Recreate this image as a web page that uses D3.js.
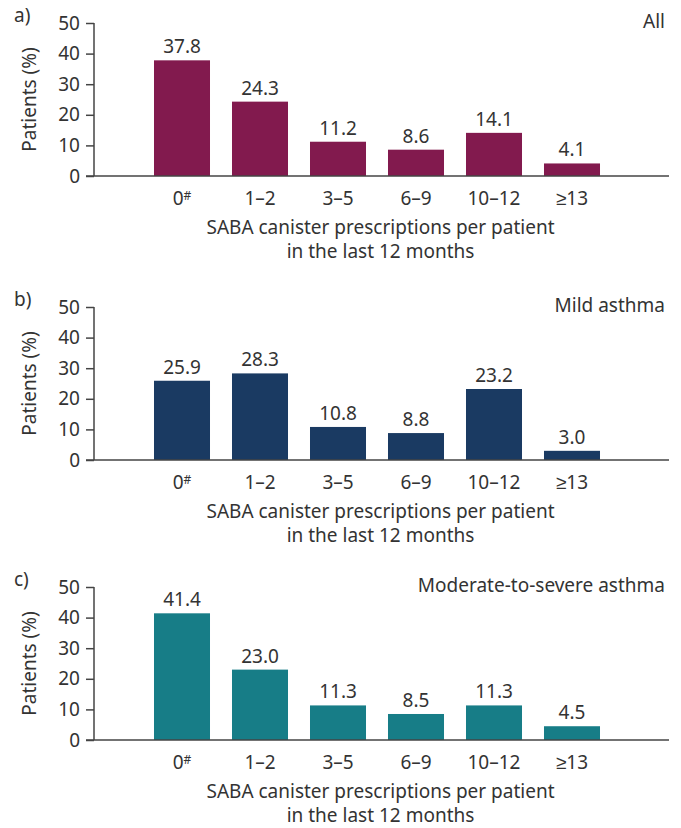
<!DOCTYPE html>
<html>
<head>
<meta charset="utf-8">
<script src="https://cdn.jsdelivr.net/npm/d3@7"></script>
<style>
  body { margin: 0; background: #fff; }
  text { font-family: "Noto Sans", sans-serif; fill: #333; }
</style>
</head>
<body>
<div id="chart"></div>
<script>

var categories = ["0", "1\u20132", "3\u20135", "6\u20139", "10\u201312", "\u226513"];
var allValues = [37.8, 24.3, 11.2, 8.6, 14.1, 4.1];
var mildValues = [25.9, 28.3, 10.8, 8.8, 23.2, 3.0];
var modSevValues = [41.4, 23.0, 11.3, 8.5, 11.3, 4.5];
var yTicks = [0, 10, 20, 30, 40, 50];

var panels = [
	{letter: "a)", title: "All", values: allValues, color: "#821a4e", top: 23},
	{letter: "b)", title: "Mild asthma", values: mildValues, color: "#1a3a62", top: 307},
	{letter: "c)", title: "Moderate-to-severe asthma", values: modSevValues, color: "#177d87", top: 587}
];

var width = 681, height = 828;
var plotH = 153;
var axisX = 94, axisEnd = 669;
var fs = "19px";

var svg = d3.select("#chart").append("svg")
	.attr("width", width)
	.attr("height", height);

var x = d3.scaleBand()
	.domain(categories)
	.range([143, 611])
	.paddingInner(0.282)
	.paddingOuter(0.141);

panels.forEach(function (p) {
	var g = svg.append("g")
		.attr("transform", "translate(0," + p.top + ")");

	var y = d3.scaleLinear()
		.domain([0, 50])
		.range([plotH, 0]);

	// bars
	g.selectAll("rect.bar")
		.data(p.values)
		.enter().append("rect")
		.attr("class", "bar")
		.attr("x", function (d, i) { return x(categories[i]); })
		.attr("y", function (d) { return y(d); })
		.attr("width", x.bandwidth())
		.attr("height", function (d) { return plotH - y(d); })
		.style("fill", p.color);

	// value labels
	g.selectAll("text.val")
		.data(p.values)
		.enter().append("text")
		.attr("class", "val")
		.attr("x", function (d, i) { return x(categories[i]) + x.bandwidth() / 2; })
		.attr("y", function (d) { return y(d) - 7; })
		.attr("text-anchor", "middle")
		.style("font-size", fs)
		.text(function (d) { return d.toFixed(1); });

	// y axis
	var yAxis = d3.axisLeft(y)
		.tickValues(yTicks)
		.tickSize(8)
		.tickPadding(6);
	var ya = g.append("g")
		.attr("transform", "translate(" + axisX + ",0)")
		.call(yAxis);
	ya.select(".domain").attr("d", "M0,0V" + plotH).attr("stroke", "#444").attr("stroke-width", 1.5);
	ya.selectAll(".tick line").attr("stroke", "#444").attr("stroke-width", 1.5);
	ya.selectAll(".tick text")
		.style("font-family", "'Noto Sans', sans-serif")
		.style("font-size", fs)
		.attr("fill", "#333");

	// x axis baseline
	g.append("line")
		.attr("x1", axisX - 8).attr("x2", axisEnd)
		.attr("y1", plotH).attr("y2", plotH)
		.attr("stroke", "#444").attr("stroke-width", 1.5);

	// category labels
	var cat = g.selectAll("text.cat")
		.data(categories)
		.enter().append("text")
		.attr("class", "cat")
		.attr("x", function (d) { return x(d) + x.bandwidth() / 2; })
		.attr("y", plotH + 29)
		.attr("text-anchor", "middle")
		.style("font-size", fs)
		.text(function (d) { return d; });
	cat.filter(function (d, i) { return i === 0; })
		.append("tspan")
		.attr("dy", "-0.45em")
		.style("font-size", "12px")
		.text("#");

	// x axis title
	var cx = (axisX + axisEnd) / 2 - 1;
	g.append("text")
		.attr("x", cx).attr("y", plotH + 58)
		.attr("text-anchor", "middle")
		.style("font-size", fs)
		.text("SABA canister prescriptions per patient");
	g.append("text")
		.attr("x", cx).attr("y", plotH + 82)
		.attr("text-anchor", "middle")
		.style("font-size", fs)
		.text("in the last 12 months");

	// y axis title
	g.append("text")
		.attr("transform", "translate(36," + (plotH / 2) + ") rotate(-90)")
		.attr("text-anchor", "middle")
		.style("font-size", fs)
		.text("Patients (%)");

	// panel letter
	g.append("text")
		.attr("x", 14).attr("y", -1)
		.style("font-size", fs)
		.text(p.letter);

	// panel title
	g.append("text")
		.attr("x", 665).attr("y", 5)
		.attr("text-anchor", "end")
		.style("font-size", fs)
		.text(p.title);
});
</script>
</body>
</html>
